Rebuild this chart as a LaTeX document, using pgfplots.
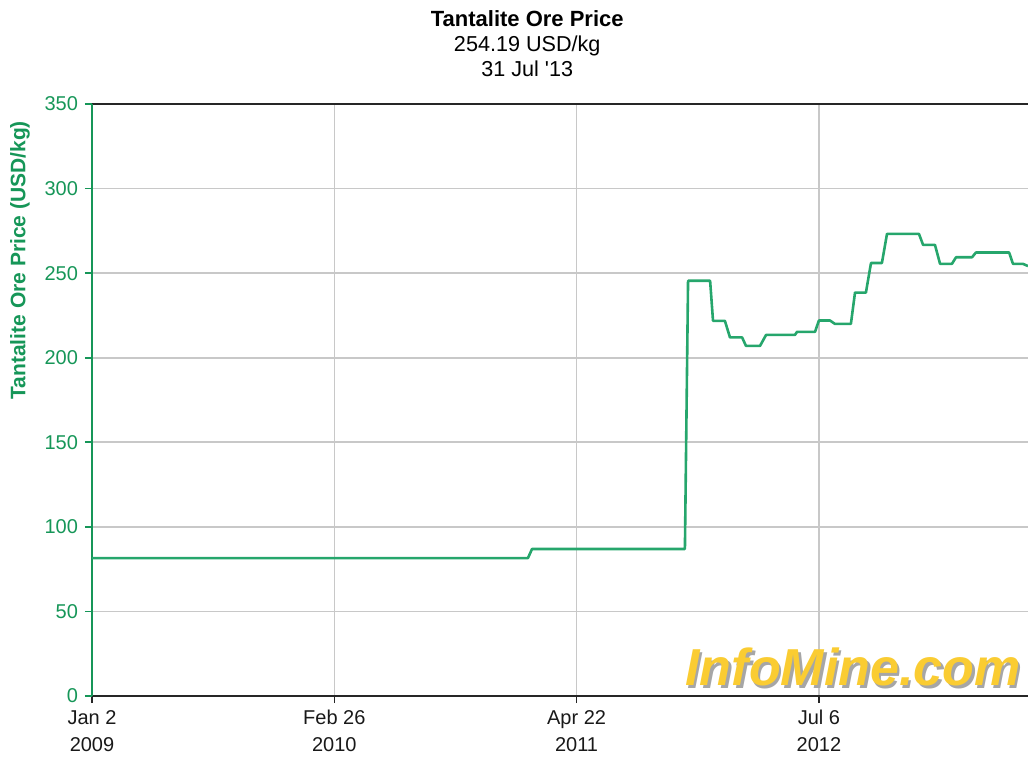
\documentclass[border=0pt]{standalone}
\usepackage{pgfplots}
\pgfplotsset{compat=1.18}
\usepackage{fontspec}
\setmainfont{Liberation Sans}
\definecolor{imgreen}{RGB}{22,150,88}
\definecolor{imline}{RGB}{38,166,108}
\definecolor{imyellow}{RGB}{250,204,50}
\definecolor{imgrid}{RGB}{200,200,200}
\pgfplotstableread{
x y
0 81.5
1.799 81.5
1.816 86.9
2.447 86.9
2.460 245.5
2.551 245.5
2.563 221.8
2.612 221.8
2.633 212.0
2.683 212.0
2.699 207.0
2.757 207.0
2.782 213.5
2.901 213.5
2.910 215.3
2.984 215.3
3.000 222.0
3.046 222.0
3.066 220.0
3.132 220.0
3.149 238.5
3.194 238.5
3.215 256.0
3.260 256.0
3.281 273.2
3.413 273.2
3.430 266.7
3.479 266.7
3.500 255.5
3.549 255.5
3.566 259.4
3.632 259.4
3.648 262.2
3.785 262.2
3.801 255.5
3.842 255.5
3.863 254.19
}\pricedata
\begin{document}
\begin{tikzpicture}
\useasboundingbox (-46pt,-30pt) rectangle (468pt,348pt);
\begin{axis}[
  at={(0,0)}, anchor=south west,
  scale only axis, width=468pt, height=296pt,
  xmin=0, xmax=3.863, ymin=0, ymax=350,
  axis x line*=box, axis y line*=left,
  xtick pos=lower, ytick pos=left,
  tick align=outside,
  x axis line style={black!85, line width=1pt},
  y axis line style={imgreen, line width=1pt},
  xtick={0,1,2,3},
  xticklabels={{Jan 2\\2009},{Feb 26\\2010},{Apr 22\\2011},{Jul 6\\2012}},
  ytick={0,50,...,350},
  xticklabel style={align=center, font=\fontsize{10}{13.5}\selectfont, text=black!90},
  yticklabel style={text=imgreen, font=\fontsize{10}{12}\selectfont},
  /pgf/number format/assume math mode=true,
  x tick style={black!85, line width=0.8pt},
  y tick style={imgreen, line width=0.8pt},
  major tick length=3.5pt,
  grid=major,
  major grid style={imgrid, line width=0.8pt},
  ylabel={Tantalite Ore Price (USD/kg)},
  ylabel style={at={(axis description cs:-0.077,0.736)}, anchor=center, font=\bfseries\fontsize{10.5}{12}\selectfont, text=imgreen},
  title={{\bfseries\fontsize{11}{12.5}\selectfont Tantalite Ore Price}\\254.19 USD/kg\\31 Jul \textquotesingle 13},
  title style={at={(axis description cs:0.465,1)}, anchor=north, yshift=44.5pt, align=center, font=\fontsize{10.8}{12.5}\selectfont},
]
\node[anchor=base, text=black!35, font=\bfseries\itshape\fontsize{26}{30}\selectfont] at ([xshift=1.2pt,yshift=-1.2pt]axis cs:3.141,6) {InfoMine.com};
\node[anchor=base, text=imyellow, font=\bfseries\itshape\fontsize{26}{30}\selectfont] at (axis cs:3.141,6) {InfoMine.com};
\addplot[imline, line width=1.3pt, line join=round, mark=none] table[x=x, y=y] {\pricedata};
\end{axis}
\end{tikzpicture}
\end{document}
